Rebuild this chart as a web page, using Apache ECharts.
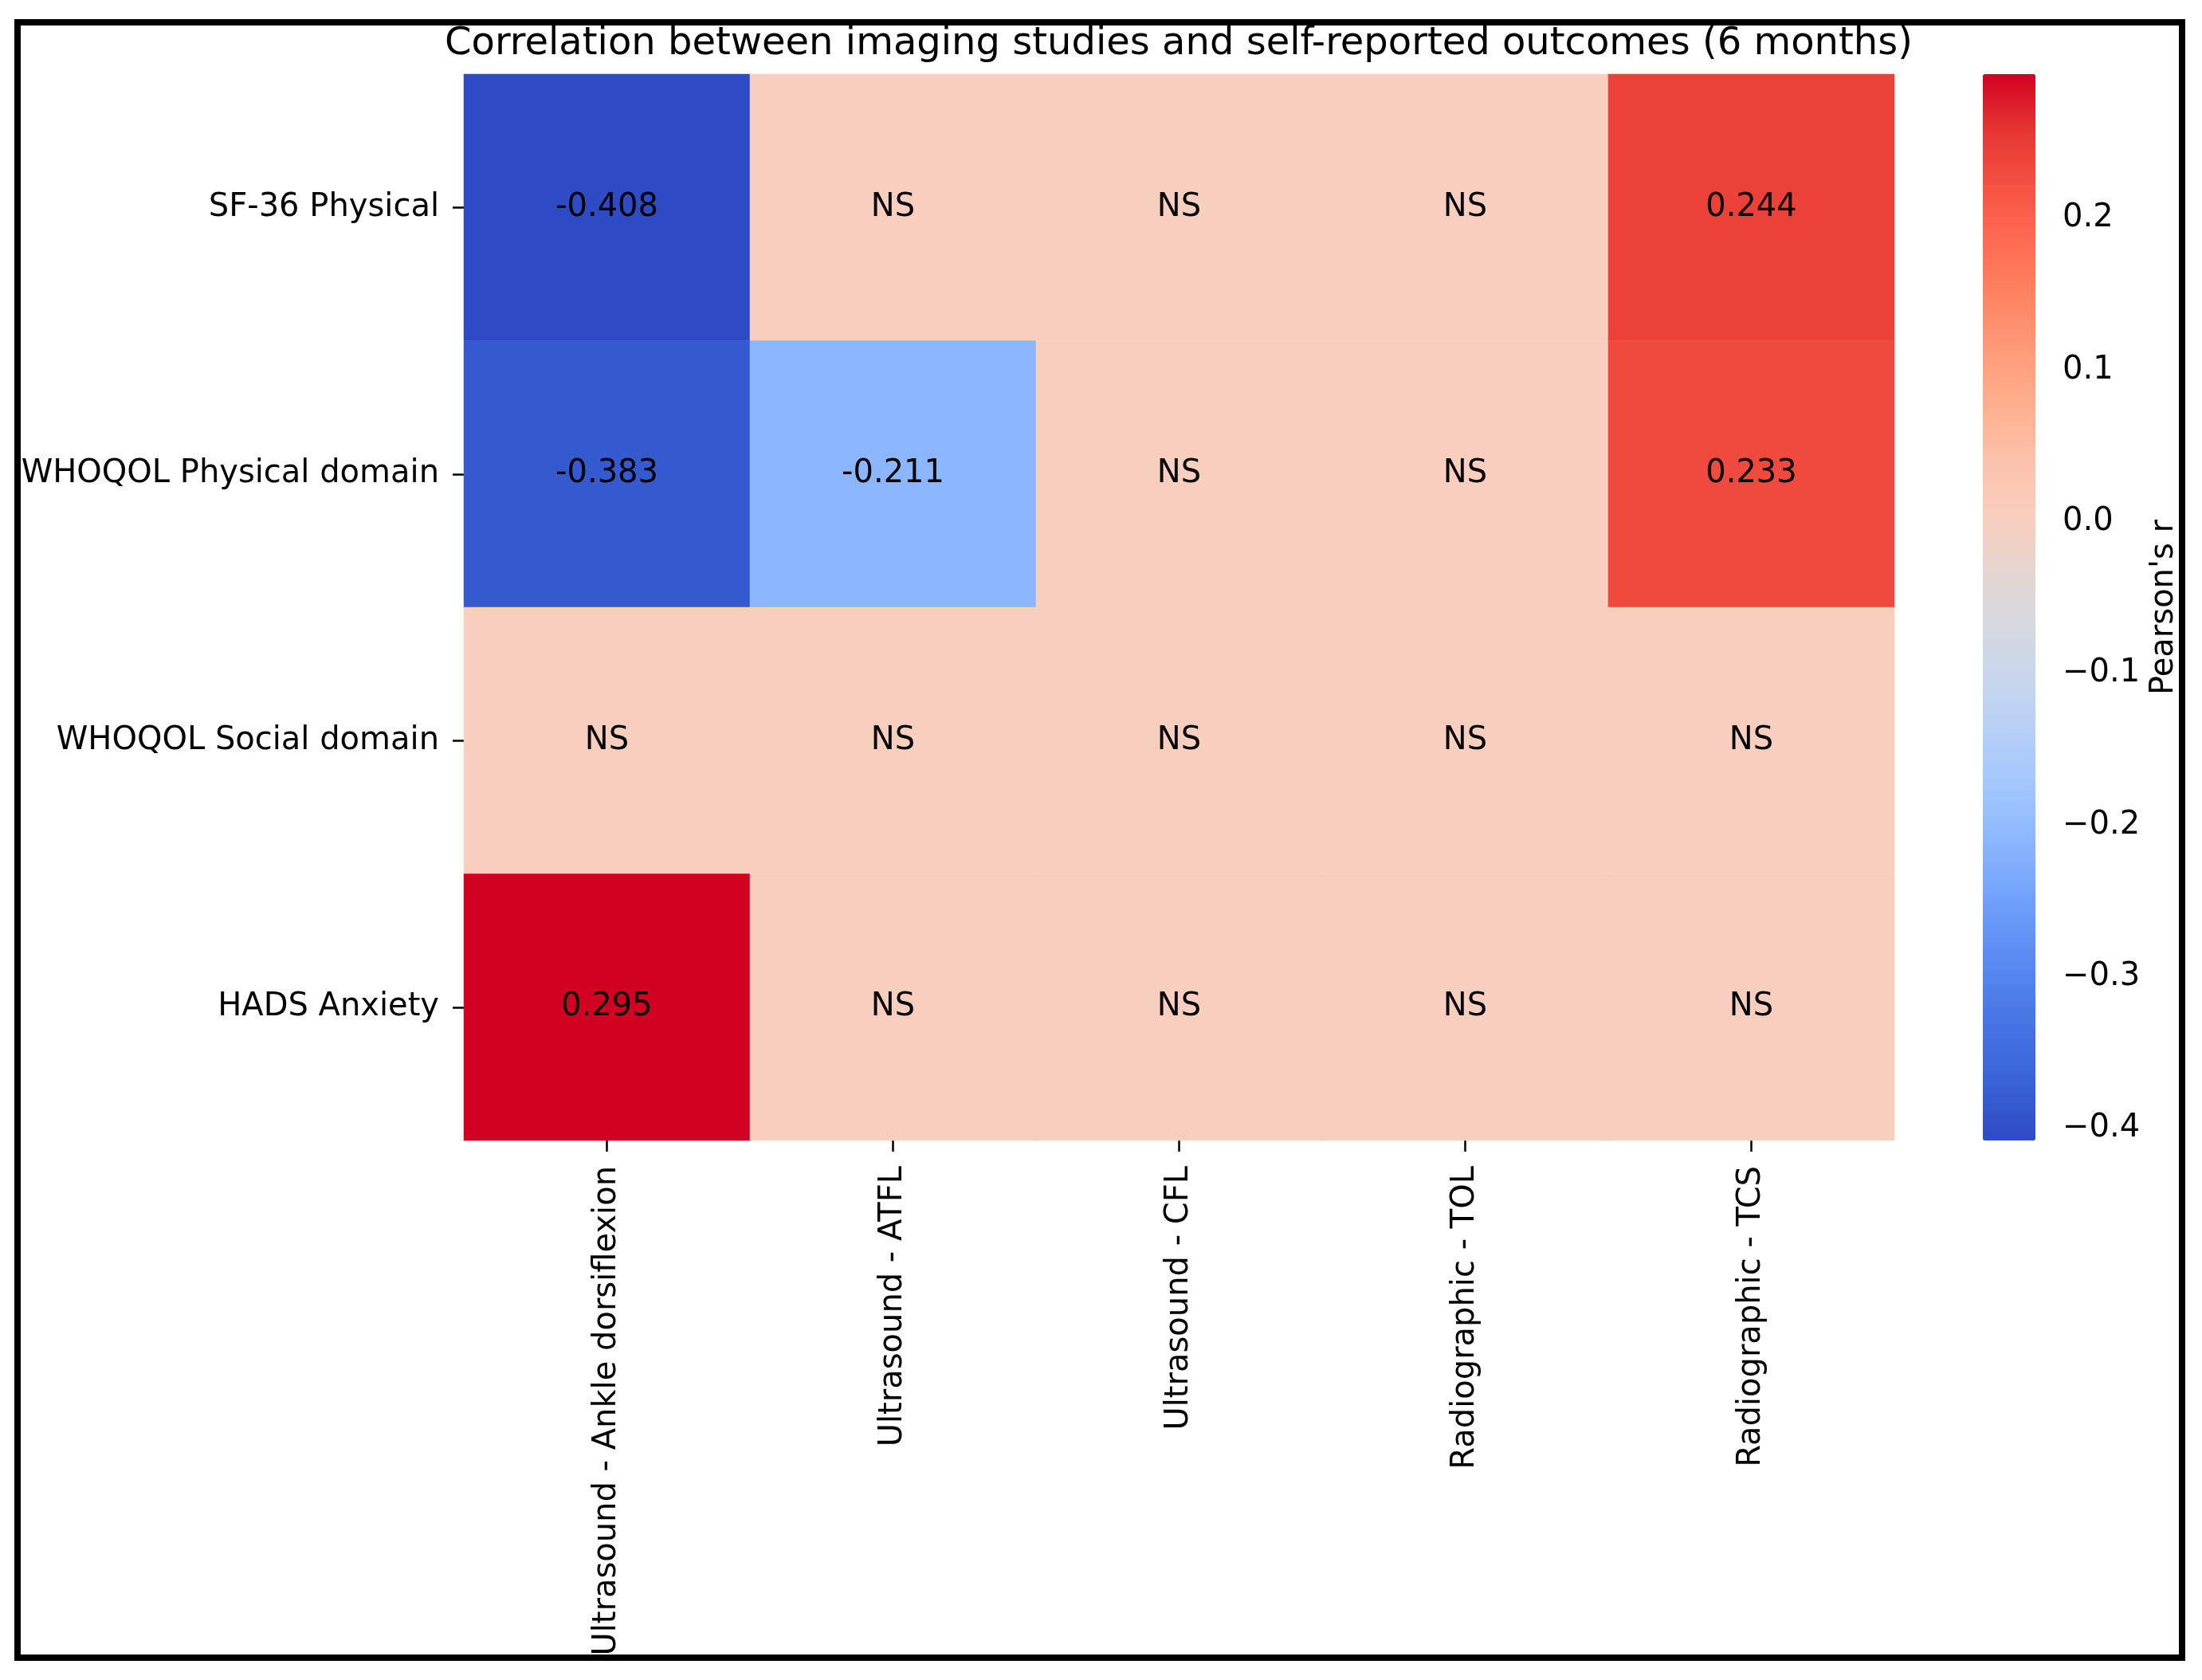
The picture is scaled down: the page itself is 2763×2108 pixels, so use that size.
<!DOCTYPE html>
<html>
<head>
<meta charset="utf-8">
<script src="https://cdn.jsdelivr.net/npm/echarts@6/dist/echarts.min.js"></script>
<style>
html,body{margin:0;padding:0;background:#fff;}
#chart{width:2763px;height:2108px;}
</style>
</head>
<body>
<div id="chart"></div>
<script>
// ---- data ----
const titleText = 'Correlation between imaging studies and self-reported outcomes (6 months)';
const imagingMeasures = ['Ultrasound - Ankle dorsiflexion', 'Ultrasound - ATFL', 'Ultrasound - CFL', 'Radiographic - TOL', 'Radiographic - TCS'];
const outcomes = ['SF-36 Physical', 'WHOQOL Physical domain', 'WHOQOL Social domain', 'HADS Anxiety'];
// null = not significant (shown as "NS")
const sf36Physical = [-0.408, null, null, null, 0.244];
const whoqolPhysical = [-0.383, -0.211, null, null, 0.233];
const whoqolSocial = [null, null, null, null, null];
const hadsAnxiety = [0.295, null, null, null, null];
const colorbarTicks = [-0.4, -0.3, -0.2, -0.1, 0.0, 0.1, 0.2];
const rMin = -0.408;
const rMax = 0.295;
const colorbarLabel = "Pearson's r";

const rows = [sf36Physical, whoqolPhysical, whoqolSocial, hadsAnxiety];
const heatData = [];
rows.forEach((row, yi) => {
  row.forEach((r, xi) => {
    heatData.push({ value: [xi, yi, r === null ? 0 : r], label: { formatter: r === null ? 'NS' : r.toFixed(3) } });
  });
});

const FONT = "'DejaVu Sans', sans-serif";
const cmap = ['#2E4AC5', '#3862D4', '#4673E3', '#5586F0', '#6A9AF8', '#83B0FD', '#9BC3FF', '#B0CDF9',
  '#C3D5EF', '#D3D8E2', '#E2D7D2', '#F8CFBF', '#FBC4AD', '#FEB191', '#FF9C7A', '#FF8564', '#FF6B53',
  '#F65343', '#E53633', '#D20021'];

const chart = echarts.init(document.getElementById('chart'), null, { renderer: 'canvas' });
chart.setOption({
  animation: false,
  backgroundColor: '#ffffff',
  title: {
    text: titleText,
    left: 1479, top: 32, padding: 0, textAlign: 'center',
    textStyle: { fontFamily: FONT, fontSize: 48, fontWeight: 'normal', color: '#000' }
  },
  grid: [
    { left: 582, top: 93, width: 1795, height: 1338 },
    { left: 2488, top: 93, width: 66, height: 1338 }
  ],
  xAxis: [
    {
      type: 'category', gridIndex: 0, data: imagingMeasures, position: 'bottom',
      axisLine: { show: false },
      axisTick: { show: true, alignWithLabel: true, length: 14, lineStyle: { color: '#000', width: 2.5 } },
      axisLabel: { rotate: 90, margin: 32, fontFamily: FONT, fontSize: 40, color: '#000', interval: 0 },
      splitLine: { show: false }
    },
    { type: 'value', gridIndex: 1, show: false, min: 0, max: 1 }
  ],
  yAxis: [
    {
      type: 'category', gridIndex: 0, data: outcomes, inverse: true,
      axisLine: { show: false },
      axisTick: { show: true, alignWithLabel: true, length: 14, lineStyle: { color: '#000', width: 2.5 } },
      axisLabel: { margin: 31, fontFamily: FONT, fontSize: 40, color: '#000', interval: 0, padding: [4, 0, 0, 0] },
      splitLine: { show: false }
    },
    {
      type: 'value', gridIndex: 1, position: 'right', min: rMin, max: rMax,
      axisLine: { show: false },
      axisTick: { show: true, length: 17, customValues: colorbarTicks, lineStyle: { color: '#000', width: 2.5 } },
      axisLabel: {
        margin: 34, fontFamily: FONT, fontSize: 40, color: '#000', customValues: colorbarTicks,
        padding: [9, 0, 0, 0],
        formatter: v => v.toFixed(1).replace('-', '\u2212')
      },
      splitLine: { show: false },
      name: colorbarLabel, nameLocation: 'middle', nameRotate: 90, nameGap: 142,
      nameTextStyle: { fontFamily: FONT, fontSize: 40, color: '#000' }
    }
  ],
  visualMap: [{
    type: 'continuous', seriesIndex: 0, dimension: 2, min: rMin, max: rMax,
    calculable: false, hoverLink: false, orient: 'vertical',
    left: 2488, top: 93, itemWidth: 66, itemHeight: 1338, padding: 0,
    inRange: { color: cmap }
  }],
  series: [{
    type: 'heatmap', xAxisIndex: 0, yAxisIndex: 0,
    data: heatData,
    label: { show: true, fontFamily: FONT, fontSize: 40, color: '#000', padding: [4, 0, 0, 0] },
    itemStyle: { borderWidth: 0 },
    emphasis: { disabled: true }
  }],
  graphic: [{
    type: 'rect', z: 100, silent: true,
    shape: { x: 22, y: 28, width: 2716, height: 2052 },
    style: { fill: null, stroke: '#000', lineWidth: 8 }
  }]
});
</script>
</body>
</html>
